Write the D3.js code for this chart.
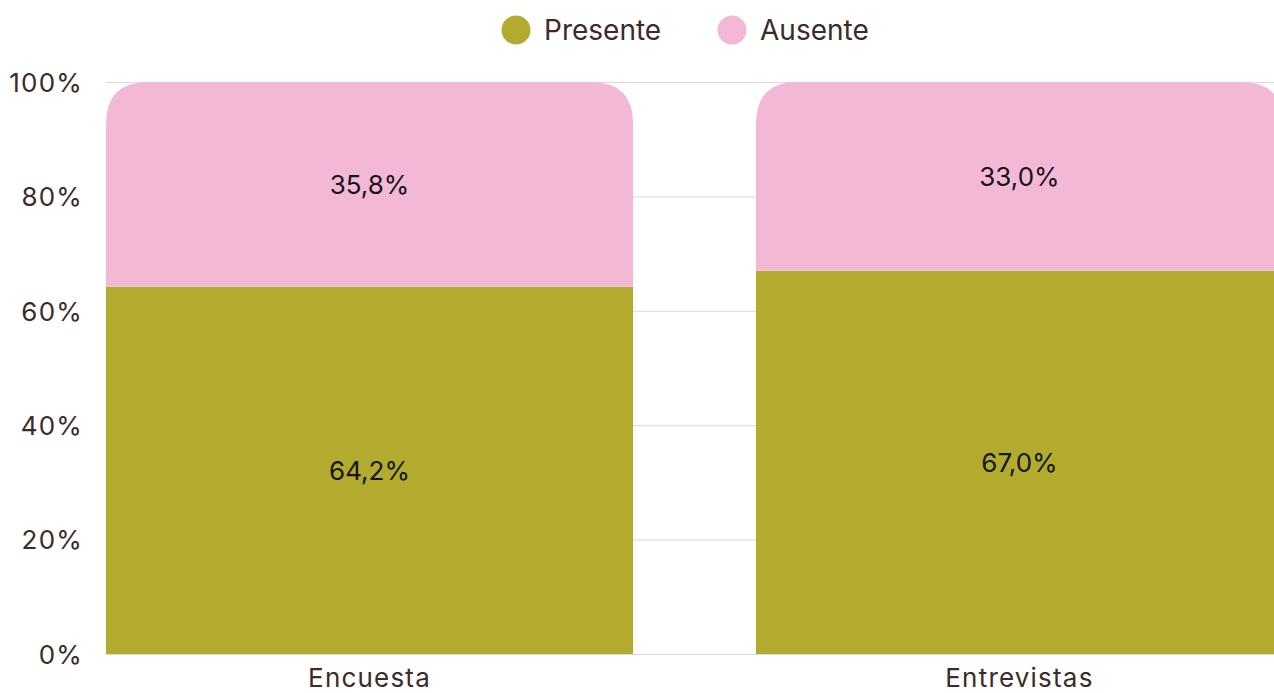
<!DOCTYPE html>
<html lang="es">
<head>
    <meta charset="UTF-8">
    <title>Presente / Ausente</title>
    <style>
        body{ margin:0; background:#fff; overflow:hidden; }
        text{ font-family: Inter, "DejaVu Sans", sans-serif; }
        .tick line{ stroke:#d9d9d9; }
        .domain{ display:none; }
    </style>
    <script src="https://d3js.org/d3.v7.min.js"></script>
</head>
<body>
    <div class="canvas"></div>
    <script>
    const categories = ['Encuesta', 'Entrevistas'];
    const presente = [64.2, 67.0];
    const ausente = [35.8, 33.0];
    const yTicks = [0, 20, 40, 60, 80, 100];
    const seriesNames = ['Presente', 'Ausente'];
    const colors = ['#b3ab2e', '#f4b8d7'];

    const width = 1274, height = 693;
    const svg = d3.select('.canvas')
                    .append('svg')
                    .attr('width', width)
                    .attr('height', height);

    const x = d3.scaleBand()
                .domain(categories)
                .range([106, 1283])
                .paddingInner(0.189)
                .paddingOuter(0);
    const y = d3.scaleLinear().domain([0, 100]).range([654, 82]);

    // gridlines + labels
    svg.append('g')
        .attr('transform', 'translate(106,0)')
        .call(d3.axisLeft(y).tickValues(yTicks).tickFormat(d => d + '%')
                .tickSize(-1300).tickPadding(23))
        .call(g => g.selectAll('text')
                    .attr('fill', '#3d2a2a')
                    .attr('font-size', 26)
                    .attr('letter-spacing', 1.2)
                    .attr('dy', '0.36em'));

    const fmt = v => v.toFixed(1).replace('.', ',') + '%';
    const r = 42;

    function topRounded(x0, y0, w, h, r){
        return `M${x0},${y0 + h} L${x0},${y0 + r} Q${x0},${y0} ${x0 + r},${y0}
                L${x0 + w - r},${y0} Q${x0 + w},${y0} ${x0 + w},${y0 + r}
                L${x0 + w},${y0 + h} Z`;
    }

    categories.forEach((c, i) => {
        const bx = x(c), bw = x.bandwidth();
        // presente (bottom)
        svg.append('rect')
            .attr('x', bx).attr('y', y(presente[i]))
            .attr('width', bw).attr('height', y(0) - y(presente[i]))
            .attr('fill', colors[0]);
        // ausente (top, rounded)
        const top = y(presente[i] + ausente[i]);
        svg.append('path')
            .attr('d', topRounded(bx, top, bw, y(presente[i]) - top, r))
            .attr('fill', colors[1]);

        svg.append('text')
            .attr('x', bx + bw / 2)
            .attr('y', (y(0) + y(presente[i])) / 2)
            .attr('dy', '0.36em')
            .attr('text-anchor', 'middle')
            .attr('font-size', 26)
            .attr('fill', '#151515')
            .text(fmt(presente[i]));
        svg.append('text')
            .attr('x', bx + bw / 2)
            .attr('y', (top + y(presente[i])) / 2)
            .attr('dy', '0.36em')
            .attr('text-anchor', 'middle')
            .attr('font-size', 26)
            .attr('fill', '#151515')
            .text(fmt(ausente[i]));

        svg.append('text')
            .attr('x', bx + bw / 2)
            .attr('y', 678)
            .attr('dy', '0.36em')
            .attr('text-anchor', 'middle')
            .attr('font-size', 26)
            .attr('letter-spacing', 1.2)
            .attr('fill', '#3d2a2a')
            .text(c);
    });

    // legend
    const legendX = [516, 732];
    seriesNames.forEach((s, i) => {
        svg.append('circle')
            .attr('cx', legendX[i]).attr('cy', 30).attr('r', 14.5)
            .attr('fill', colors[i]);
        svg.append('text')
            .attr('x', legendX[i] + 28).attr('y', 30)
            .attr('dy', '0.36em')
            .attr('font-size', 28)
            .attr('fill', '#3d2a2a')
            .text(s);
    });
    </script>
</body>
</html>
